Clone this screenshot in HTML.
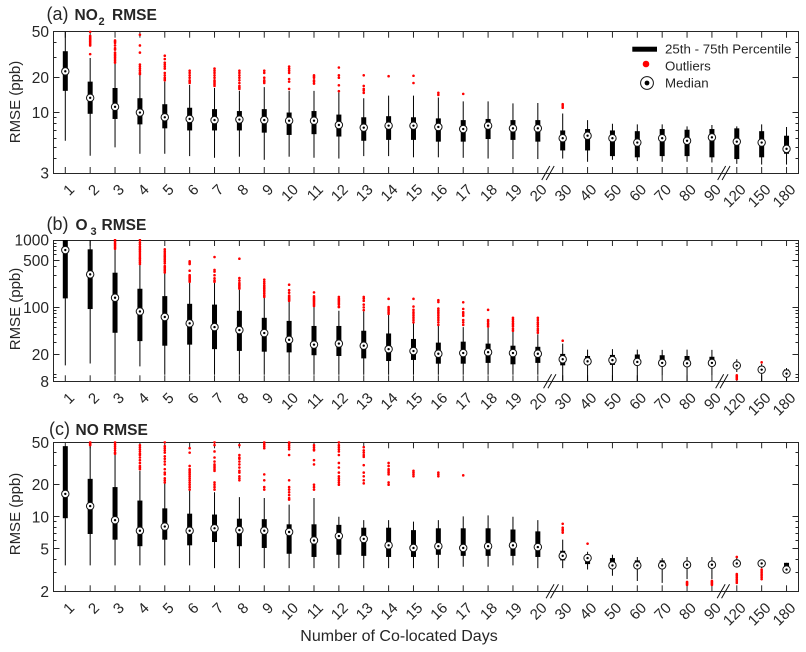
<!DOCTYPE html>
<html>
<head>
<meta charset="utf-8">
<title>RMSE vs Number of Co-located Days</title>
<style>
html,body{margin:0;padding:0;background:#fff;}
svg{display:block;font-family:"Liberation Sans",sans-serif;}
text{fill:#262626;}
</style>
</head>
<body>
<svg id="chart" xmlns="http://www.w3.org/2000/svg" width="806" height="652" viewBox="0 0 806 652">
  <rect x="0" y="0" width="806" height="652" fill="#fff"/>
  <g>
    <text x="46.5" y="20" font-size="18">(a)</text>
    <text x="74.5" y="20" font-size="15.5" font-weight="bold">NO</text>
    <text x="98.5" y="25" font-size="11" font-weight="bold">2</text>
    <text x="112" y="20" font-size="15.5" font-weight="bold">RMSE</text>
  </g>
  <g>
    <text x="46.5" y="230" font-size="18">(b)</text>
    <text x="75.5" y="230" font-size="15.5" font-weight="bold">O</text>
    <text x="90.5" y="235" font-size="11" font-weight="bold">3</text>
    <text x="101.5" y="230" font-size="15.5" font-weight="bold">RMSE</text>
  </g>
  <g>
    <text x="49" y="435" font-size="18">(c)</text>
    <text x="75.5" y="435" font-size="15.5" font-weight="bold">NO RMSE</text>
  </g>
  <g>
    <rect x="632.3" y="46.7" width="24.7" height="5" fill="#000"/>
    <text x="665" y="53.5" font-size="13.3">25th - 75th Percentile</text>
    <circle cx="646" cy="64" r="3.3" fill="#ff0000"/>
    <text x="665" y="70.5" font-size="13.3">Outliers</text>
    <circle cx="647" cy="83" r="6.4" fill="#fff" stroke="#111" stroke-width="1"/>
    <circle cx="647" cy="83" r="2.4" fill="#000"/>
    <text x="665" y="87.5" font-size="13.3">Median</text>
  </g>
  <text x="399" y="641" font-size="16" text-anchor="middle">Number of Co-located Days</text>
</svg>
<script>
const categories = ["1","2","3","4","5","6","7","8","9","10","11","12","13","14","15","16","17","18","19","20","30","40","50","60","70","80","90","120","150","180"];

const no2Ticks = [50,20,10,3];
const no2MinorTicks = [40,30,9,8,7,6,5,4];
const no2Low = [5.7,4.23,5,4.4,4.4,4.2,4.06,4.15,3.9,4.15,4.06,4,4.2,4.2,4.1,4.1,4.06,4,3.96,3.96,4,3.75,3.9,3.8,3.75,3.75,3.7,3.6,3.55,3.55];
const no2Q1 = [15.4,9.75,8.8,7.9,7.3,7,7,7,6.7,6.4,6.5,6.2,5.7,5.8,5.8,5.6,5.6,5.9,5.8,5.6,4.7,4.7,4.2,4.1,4.2,4.2,4.1,3.96,4.1,4.4];
const no2Median = [22.7,13.4,11.2,10,9.1,8.8,8.6,8.7,8.6,8.5,8.5,7.8,7.4,7.7,7.7,7.5,7.2,7.7,7.3,7.3,6,6.3,6,5.5,6,5.7,6.1,5.6,5.5,4.85];
const no2Q3 = [33.9,18.5,16.3,13.3,11.8,11,10.7,10.3,10.7,10,10.3,9.6,9.1,9.3,9.1,8.9,8.6,8.8,8.6,8.6,7,7.2,7,6.9,7.2,7.1,7.2,7.3,6.9,6.3];
const no2High = [50,29.6,26.6,21.2,18.5,17.3,16.3,15.4,16.6,15.4,15.4,14.9,13.3,14,14,13.5,12.5,12.5,12,12.1,9.8,8.6,8,7.9,7.9,7.6,7.8,7.6,7.9,7.5];
const no2Outliers = [[],[32,38,39,40,41,42,43,44,45,46,50],[27,28,29,30,31,32,33,35,36,38,40,41,42],[21.5,22,23,24,25,26,33,38,47],[19,19.5,20,21,22,24,25,26,27,29,31],[18,18.5,19,20,21,22,23],[17,17.5,18,18.5,19,20,21,22,23,24],[16,16.5,17,18,19,20,21,22,23],[18,18.5,19,20,22,23],[16,18.5,19.5,22,23,24,25],[17.8,18.5,19,20,20.5,21],[15.3,17.2,20,21,24.5],[14.8,15.5,16,17,21],[20.6],[18,20.8],[14.2,14.8],[14.5],[],[],[],[11,11.4,11.8],[],[],[],[],[],[],[],[],[]];

const o3Ticks = [1000,500,100,20,8];
const o3MinorTicks = [900,800,700,600,400,300,200,90,80,70,60,50,40,30,10,9];
const o3Low = [13.8,14.7,10,13.3,10,10,10,10,10,10,10,10,10,10,10,10,10,10,10,10,8,8,8,8,9.8,8,9.8,11,8,8];
const o3Q1 = [136,94.5,42,31.6,27,28,24,22.6,22,21.5,19.5,19,17.5,16,16.6,14.6,14.6,15,14.3,15,13.8,14.6,14,14,13.5,13.8,13.5,12.5,10.8,9.5];
const o3Median = [710,309,139,87,72,58,51,46,41.6,33,28,29,27,24,22.5,20.5,21,21.6,21,20.5,17,15.8,16.5,15.5,15,14.8,15,13.7,11.9,10.4];
const o3Q3 = [1000,727,327,189,147,113,110,89,70,63,53,53,45,41,34,30,31,29,27,26,20.4,19,19.7,20,19.5,19,18.5,15.4,13.5,12];
const o3High = [1000,1000,735,430,323,235,235,183,139,123,103,89,87,78,59,53,51,50,44,40,29,23.6,24,23.6,23.4,23.6,23.4,17,14.5,12.6];
const o3Outliers = [[],[],[740,780,820,860,900,950,1000],[440,470,500,530,560,600,640,680,720,760,800,860,920,1000],[330,350,370,390,410,450,480,510,540,570,600,640,680,727],[240,250,260,270,280,290,300,350,440,460,482],[240,250,270,300,340,360,559],[190,200,210,220,230,250,272,528],[143,150,160,170,180,190,200,210,225,240,258],[125,130,135,140,145,150,165,180,217],[105,110,115,120,125,130,135,140,146,167],[101,102,110,115,120,125,130,135,143],[91,100,110,125,135,143],[80,85,90,95,101,134],[60,65,70,75,80,85,92,103,134],[55,60,65,70,75,80,85,90,96,120,128],[55,60,65,75,80,85,95,119],[52,55,58,62,65,92],[45,48,52,55,58,62,66,70],[42,45,48,52,56,60,65,70],[32],[],[],[],[],[],[],[8.6,9,9.4,9.8],[15.3],[]];

const noTicks = [50,20,10,5,2];
const noMinorTicks = [40,30,9,8,7,6,4,3];
const noLow = [3.5,3.5,3.5,3.5,3.5,3.5,3.3,3.3,3.3,3.3,3.3,3.3,3.3,3.3,3.3,3.3,3.4,3.4,3.5,3.3,3.3,3.2,2.8,2.5,2.4,2.6,2.6,3.4,3.3,3];
const noQ1 = [9.7,6.9,6.1,5.3,6.1,5.4,5.8,5.3,5.1,4.5,4.2,4.4,4.3,4.2,4.2,4.4,4.3,4.3,4.3,4.2,3.9,3.6,3.4,3.4,3.4,3.4,3.4,3.5,3.5,3];
const noMedian = [16.4,12.6,9.3,7.4,8.1,7.4,7.8,7.5,7.4,7.2,6,6.6,6.2,5.4,5.1,5.3,5.1,5.3,5.4,5.2,4.3,4.1,3.5,3.5,3.5,3.55,3.55,3.65,3.65,3.2];
const noQ3 = [46,22.7,19,14.2,12,10.7,10.5,9.6,9.5,8.5,8.5,8.4,7.9,7.9,7.5,7.8,7.8,7.8,7.6,7.3,4.8,4.4,4.1,3.9,3.9,3.8,3.85,3.9,3.85,3.7];
const noHigh = [46,46,38,27,21,18,17,15.3,15,13,15,10,9.3,9.3,9,9.3,10.1,10.3,10,9.3,6.1,4.7,4.4,4.2,4.1,4.2,4.2,4.1,3.85,3.7];
const noOutliers = [[],[47,48,49,50],[39,40,42,44,46,48,50],[28,29,30,32,34,36,38,39,41,43,45,47],[21,22,23,25,26,28,31,33,35,37,40,42,44,46,50],[18,19,20,21,22,23,24,25,26,27,28,30,40,44],[18,19,20,21,27,28,29,30,31,33,36,41,47,50],[22,23,24,26,27,29,31,33,35,36,38,47],[18,19,22,25,44,46,48,50],[14.5,15,16,17,18,19,22,38,43,45,47,49,50],[18,19,20,31,34,42,43,45,47],[20,21,22,23,24,26,29,32,38,41,43,45,47,50],[20.6,22,24,26,30.5,36.5,38,40,42,45],[20,21,25,26,27,28,30,32],[24,25,26,27],[24,25,26],[24.5],[],[],[],[7.1,7.4,7.6,7.9,8.6],[5.6],[],[],[],[2.3,2.35,2.4,2.45],[2.3,2.35,2.4,2.45,2.5],[2.4,2.5,2.6,2.7,2.8,2.9,4.2],[2.6,2.7,2.8,2.9,3,3.1,3.2],[]];

const svg = document.getElementById('chart');
const NS = 'http://www.w3.org/2000/svg';
const plotLeft = 53.5, plotRight = 798.5, firstX = 65.3, stepX = 24.87;

function xAt(i){ return firstX + stepX * i; }
function axisY(p, v){
  return p.bottom - (Math.log(v / p.min) / Math.log(p.max / p.min)) * (p.bottom - p.top);
}
function crisp(v){ return Math.floor(v) + 0.5; }
function make(tag, parent, props){
  const el = document.createElementNS(NS, tag);
  for (const k in props) el.setAttribute(k, props[k]);
  parent.appendChild(el);
  return el;
}

const panels = [
  {id:'a', top:31.7, bottom:173, min:3, max:50, ticks:no2Ticks, minor:no2MinorTicks, low:no2Low, q1:no2Q1, med:no2Median, q3:no2Q3, high:no2High, out:no2Outliers, labelY:102, b1:-2.3, b2:-0.5},
  {id:'b', top:240, bottom:381.3, min:8, max:1000, ticks:o3Ticks, minor:o3MinorTicks, low:o3Low, q1:o3Q1, med:o3Median, q3:o3Q3, high:o3High, out:o3Outliers, labelY:309, b1:-0.5, b2:-2.5},
  {id:'c', top:442.3, bottom:591.3, min:2, max:50, ticks:noTicks, minor:noMinorTicks, low:noLow, q1:noQ1, med:noMedian, q3:noQ3, high:noHigh, out:noOutliers, labelY:514, b1:2, b2:-1}
];

const ink = '#262626';
panels.forEach(function(p){
  const g = make('g', svg, {});
  
  

  const defs = make('defs', g, {});
  const clip = make('clipPath', defs, {id:'clip-' + p.id});
  make('rect', clip, {x:plotLeft, y:p.top - 1, width:plotRight - plotLeft, height:p.bottom - p.top + 1});

  const frameTop = crisp(p.top), frameBottom = crisp(p.bottom);
  const frame = make('rect', g, {x:plotLeft, y:frameTop, width:plotRight - plotLeft, height:frameBottom - frameTop, fill:'none', stroke:ink, 'stroke-width':1});
  
  

  const yTitle = make('text', g, {transform:'translate(20,' + p.labelY + ') rotate(-90)', 'font-size':15, 'text-anchor':'middle'});
  yTitle.textContent = 'RMSE (ppb)';
  
  

  p.ticks.forEach(function(v){
    const y = axisY(p, v);
    const ty = crisp(y);
    const t1 = make('line', g, {x1:plotLeft, x2:plotLeft + 6, y1:ty, y2:ty, stroke:ink, 'stroke-width':1});
    
    
    const t2 = make('line', g, {x1:plotRight - 6, x2:plotRight, y1:ty, y2:ty, stroke:ink, 'stroke-width':1});
    
    
    const lab = make('text', g, {x:49, y:y + 5.5, 'font-size':15.5, 'text-anchor':'end'});
    lab.textContent = String(v);
    
    
  });

  p.minor.forEach(function(v){
    const ty = crisp(axisY(p, v));
    const m1 = make('line', g, {x1:plotLeft, x2:plotLeft + 3, y1:ty, y2:ty, stroke:ink, 'stroke-width':1});
    
    
    const m2 = make('line', g, {x1:plotRight - 3, x2:plotRight, y1:ty, y2:ty, stroke:ink, 'stroke-width':1});
    
    
  });

  categories.forEach(function(c, i){
    const x = xAt(i);
    const tb = make('line', g, {x1:x, x2:x, y1:p.bottom - 6, y2:p.bottom, stroke:ink, 'stroke-width':1});
    
    
    const tt = make('line', g, {x1:x, x2:x, y1:p.top, y2:p.top + 6, stroke:ink, 'stroke-width':1});
    
    
    const lab = make('text', g, {transform:'translate(' + (x + 10) + ',' + (p.bottom + 17.5) + ') rotate(-45)', 'font-size':15, 'text-anchor':'end'});
    lab.textContent = c;
    
    
  });

  [[19.5, p.b1], [26.5, p.b2]].forEach(function(b){
    const cx = xAt(b[0]) + b[1];
    [-2.2, 2.2].forEach(function(d){
      const s = make('line', g, {x1:cx + d - 4, y1:p.bottom + 7, x2:cx + d + 4, y2:p.bottom - 7, stroke:'#111', 'stroke-width':1});
      
      
    });
  });

  const marks = make('g', g, {'clip-path':'url(#clip-' + p.id + ')'});
  
  

  categories.forEach(function(c, i){
    const x = xAt(i);
    const w = make('line', marks, {x1:x, x2:x, y1:axisY(p, p.high[i]), y2:axisY(p, p.low[i]), stroke:'#000', 'stroke-width':1});
    
    

    const yQ3 = axisY(p, p.q3[i]), yQ1 = axisY(p, p.q1[i]);
    const box = make('rect', marks, {x:x - 2.5, y:yQ3, width:5, height:yQ1 - yQ3, fill:'#000'});
    
    

    p.out[i].forEach(function(v){
      const o = make('circle', marks, {cx:x, cy:axisY(p, v), r:1.3, fill:'#ff0000'});
      
      
    });
  });

  categories.forEach(function(c, i){
    const x = xAt(i), y = axisY(p, p.med[i]);
    const ring = make('circle', g, {cx:x, cy:y, r:3.7, fill:'#fff', stroke:'#111', 'stroke-width':1});
    
    
    const dot = make('circle', g, {cx:x, cy:y, r:1.2, fill:'#000'});
    
    
  });
});
</script>
</body>
</html>
